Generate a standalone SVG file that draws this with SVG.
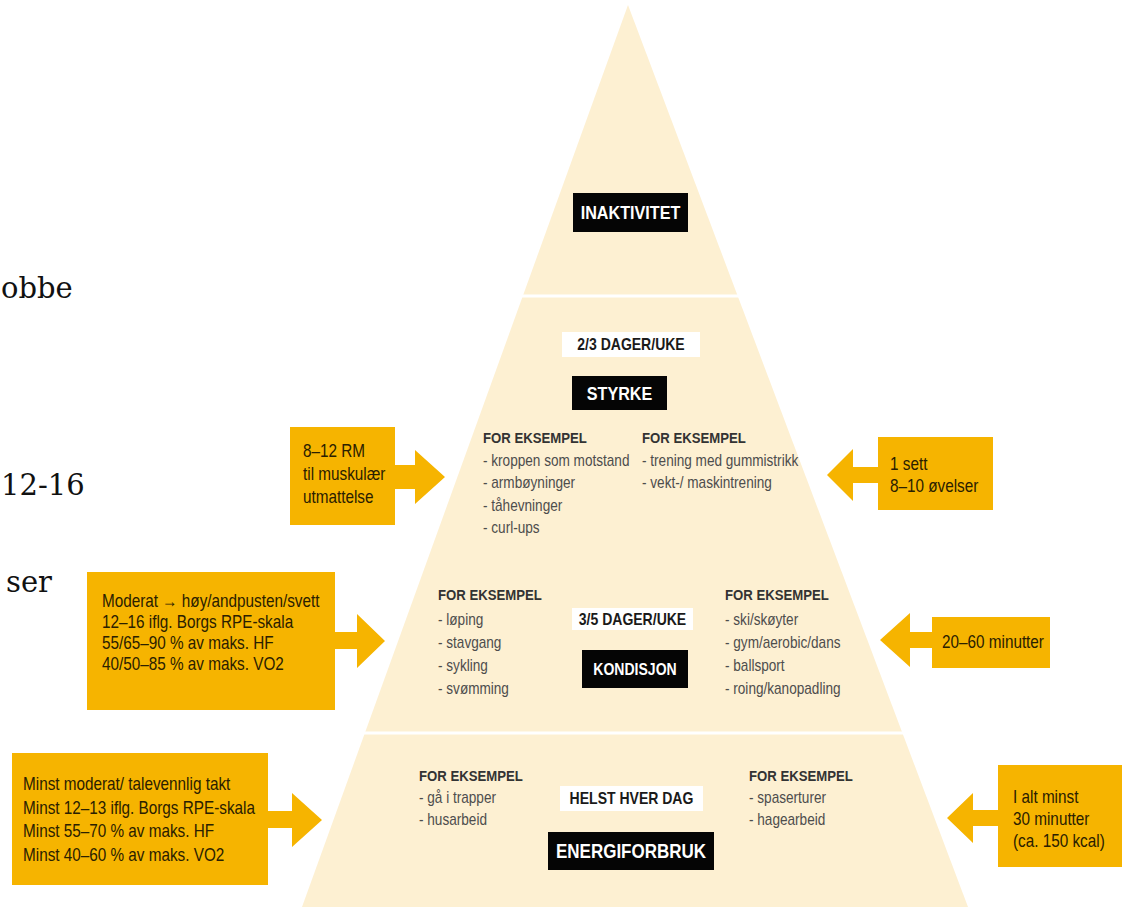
<svg xmlns="http://www.w3.org/2000/svg" width="1128" height="915" viewBox="0 0 1128 915">
<style>
.pyr{fill:#FDF0D2}
.sep{stroke:#fff;stroke-width:3}
.ob{fill:#F6B400}
.arr{fill:#F6B400}
.blk{fill:#050505}
.wht{fill:#fff}
.hd{font-family:"Liberation Sans",Arial,sans-serif;font-weight:bold;font-size:15.5px;fill:#333}
.it{font-family:"Liberation Sans",Arial,sans-serif;font-size:16px;fill:#4d4d4d}
.bx{font-family:"Liberation Sans",Arial,sans-serif;font-size:18px;fill:#2a2000}
.cw{font-family:"Liberation Sans",Arial,sans-serif;font-weight:bold;fill:#fff;text-anchor:middle}
.cb{font-family:"Liberation Sans",Arial,sans-serif;font-weight:bold;fill:#1a1a1a;text-anchor:middle;font-size:16.5px}
.serif{font-family:"DejaVu Serif","Liberation Serif",serif;font-size:29px;fill:#111}
</style>
<rect x="0" y="0" width="1128" height="915" fill="#fff"/>

<g id="page-text">
<text class="serif" x="1" y="298">obbe</text>
<text class="serif" x="1" y="495">12-16</text>
<text class="serif" x="6" y="592">ser</text>
</g>

<g id="pyramid">
<polygon class="pyr" points="628,5 968,907 302,907"/>
<line class="sep" x1="515" y1="296" x2="745" y2="296"/>
<line class="sep" x1="355" y1="733" x2="912" y2="733"/>
</g>

<g id="inaktivitet">
<rect class="blk" x="573" y="193" width="115" height="39"/>
<g transform="translate(630.5 0) scale(0.85 1)"><text class="cw" x="0" y="219" font-size="19">INAKTIVITET</text></g>
</g>

<g id="styrke">
<rect class="wht" x="562" y="332" width="138" height="25"/>
<g transform="translate(631 0) scale(0.85 1)"><text class="cb" x="0" y="350">2/3 DAGER/UKE</text></g>
<rect class="blk" x="572" y="376" width="95" height="34"/>
<g transform="translate(619.5 0) scale(0.85 1)"><text class="cw" x="0" y="400" font-size="19">STYRKE</text></g>
<g transform="translate(483 0) scale(0.85 1)">
<text class="hd" x="0" y="443">FOR EKSEMPEL</text>
<text class="it" x="0" y="466">- kroppen som motstand</text>
<text class="it" x="0" y="488">- armbøyninger</text>
<text class="it" x="0" y="511">- tåhevninger</text>
<text class="it" x="0" y="533">- curl-ups</text>
</g>
<g transform="translate(642 0) scale(0.85 1)">
<text class="hd" x="0" y="443">FOR EKSEMPEL</text>
<text class="it" x="0" y="466">- trening med gummistrikk</text>
<text class="it" x="0" y="488">- vekt-/ maskintrening</text>
</g>
</g>

<g id="kondisjon">
<rect class="wht" x="572" y="608" width="121" height="22"/>
<g transform="translate(632.5 0) scale(0.85 1)"><text class="cb" x="0" y="625">3/5 DAGER/UKE</text></g>
<rect class="blk" x="582" y="650" width="106" height="38"/>
<g transform="translate(635 0) scale(0.85 1)"><text class="cw" x="0" y="675" font-size="16.5">KONDISJON</text></g>
<g transform="translate(438 0) scale(0.85 1)">
<text class="hd" x="0" y="600">FOR EKSEMPEL</text>
<text class="it" x="0" y="625">- løping</text>
<text class="it" x="0" y="648">- stavgang</text>
<text class="it" x="0" y="671">- sykling</text>
<text class="it" x="0" y="694">- svømming</text>
</g>
<g transform="translate(725 0) scale(0.85 1)">
<text class="hd" x="0" y="600">FOR EKSEMPEL</text>
<text class="it" x="0" y="625">- ski/skøyter</text>
<text class="it" x="0" y="648">- gym/aerobic/dans</text>
<text class="it" x="0" y="671">- ballsport</text>
<text class="it" x="0" y="694">- roing/kanopadling</text>
</g>
</g>

<g id="energiforbruk">
<rect class="wht" x="560" y="786" width="143" height="25"/>
<g transform="translate(631.5 0) scale(0.85 1)"><text class="cb" x="0" y="804">HELST HVER DAG</text></g>
<rect class="blk" x="548" y="832" width="166" height="38"/>
<g transform="translate(631 0) scale(0.85 1)"><text class="cw" x="0" y="858" font-size="20">ENERGIFORBRUK</text></g>
<g transform="translate(419 0) scale(0.85 1)">
<text class="hd" x="0" y="781">FOR EKSEMPEL</text>
<text class="it" x="0" y="803">- gå i trapper</text>
<text class="it" x="0" y="825">- husarbeid</text>
</g>
<g transform="translate(749 0) scale(0.85 1)">
<text class="hd" x="0" y="781">FOR EKSEMPEL</text>
<text class="it" x="0" y="803">- spaserturer</text>
<text class="it" x="0" y="825">- hagearbeid</text>
</g>
</g>

<g id="connectors">
<polygon class="arr" points="392,465 415,465 415,450 445,477 415,504 415,489 392,489"/>
<polygon class="arr" points="881,467 853,467 853,449 827,475 853,501 853,483 881,483"/>
<polygon class="arr" points="332,632 357,632 357,614 385,641 357,668 357,649 332,649"/>
<polygon class="arr" points="935,632 910,632 910,613 880,640 910,667 910,648 935,648"/>
<polygon class="arr" points="265,811 292,811 292,793 322,820 292,847 292,828 265,828"/>
<polygon class="arr" points="1001,810 973,810 973,793 947,818 973,843 973,826 1001,826"/>
</g>

<g id="box-styrke-left">
<rect class="ob" x="290" y="427" width="105" height="98"/>
<g transform="translate(303 0) scale(0.85 1)">
<text class="bx" x="0" y="457">8–12 RM</text>
<text class="bx" x="0" y="480">til muskulær</text>
<text class="bx" x="0" y="503">utmattelse</text>
</g>
</g>

<g id="box-styrke-right">
<rect class="ob" x="878" y="437" width="115" height="73"/>
<g transform="translate(890 0) scale(0.85 1)">
<text class="bx" x="0" y="470">1 sett</text>
<text class="bx" x="0" y="492">8–10 øvelser</text>
</g>
</g>

<g id="box-kondisjon-left">
<rect class="ob" x="87" y="572" width="248" height="138"/>
<g transform="translate(102 0) scale(0.85 1)">
<text class="bx" x="0" y="607">Moderat <tspan font-weight="bold">→</tspan> høy/andpusten/svett</text>
<text class="bx" x="0" y="628">12–16 iflg. Borgs RPE-skala</text>
<text class="bx" x="0" y="649">55/65–90 % av maks. HF</text>
<text class="bx" x="0" y="670">40/50–85 % av maks. VO2</text>
</g>
</g>

<g id="box-kondisjon-right">
<rect class="ob" x="932" y="617" width="118" height="51"/>
<g transform="translate(942 0) scale(0.85 1)">
<text class="bx" x="0" y="648">20–60 minutter</text>
</g>
</g>

<g id="box-energi-left">
<rect class="ob" x="12" y="753" width="256" height="132"/>
<g transform="translate(23 0) scale(0.85 1)">
<text class="bx" x="0" y="790">Minst moderat/ talevennlig takt</text>
<text class="bx" x="0" y="814">Minst 12–13 iflg. Borgs RPE-skala</text>
<text class="bx" x="0" y="837">Minst 55–70 % av maks. HF</text>
<text class="bx" x="0" y="861">Minst 40–60 % av maks. VO2</text>
</g>
</g>

<g id="box-energi-right">
<rect class="ob" x="998" y="765" width="124" height="102"/>
<g transform="translate(1013 0) scale(0.85 1)">
<text class="bx" x="0" y="803">I alt minst</text>
<text class="bx" x="0" y="825">30 minutter</text>
<text class="bx" x="0" y="847">(ca. 150 kcal)</text>
</g>
</g>
</svg>
